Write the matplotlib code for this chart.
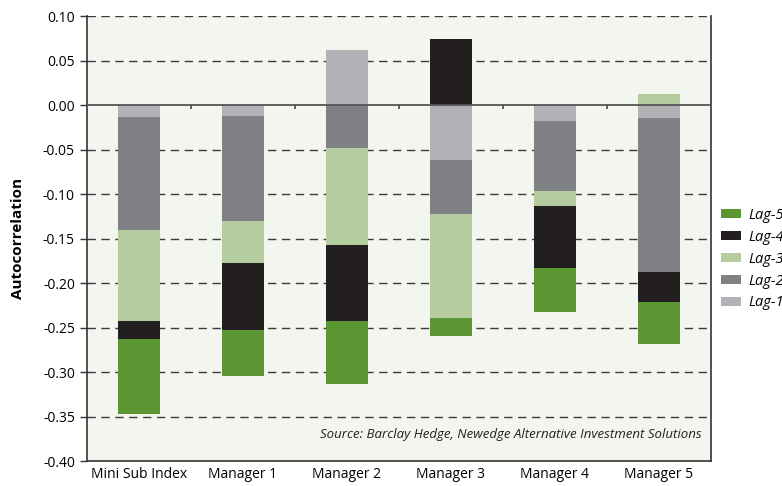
import numpy as np
import matplotlib
matplotlib.use("Agg")
import matplotlib.pyplot as plt

plt.rcParams['font.family'] = ['Open Sans', 'DejaVu Sans']

categories = ['Mini Sub Index', 'Manager 1', 'Manager 2', 'Manager 3', 'Manager 4', 'Manager 5']
lag1 = [-0.013, -0.012, 0.062, -0.062, -0.018, -0.015]
lag2 = [-0.127, -0.118, -0.048, -0.061, -0.079, -0.173]
lag3 = [-0.103, -0.047, -0.109, -0.116, -0.016, 0.012]
lag4 = [-0.020, -0.076, -0.086, 0.074, -0.070, -0.033]
lag5 = [-0.084, -0.051, -0.070, -0.020, -0.049, -0.048]
yticks = [-0.40, -0.35, -0.30, -0.25, -0.20, -0.15, -0.10, -0.05, 0.00, 0.05, 0.10]

series = [('Lag-1', lag1, '#b1b2b5'),
          ('Lag-2', lag2, '#808184'),
          ('Lag-3', lag3, '#b5cc9e'),
          ('Lag-4', lag4, '#231f20'),
          ('Lag-5', lag5, '#5a9632')]

fig = plt.figure(figsize=(7.82, 4.86), dpi=100)
ax = fig.add_axes([0.111, 0.0514, 0.798, 0.9156])
ax.set_facecolor('#f3f6ef')

x = np.arange(len(categories))
pos_bottom = np.zeros(len(categories))
neg_bottom = np.zeros(len(categories))
handles = {}
for name, vals, col in series:
    vals = np.array(vals)
    bottom = np.where(vals >= 0, pos_bottom, neg_bottom)
    h = ax.bar(x, vals, 0.40, bottom=bottom, color=col, label=name, zorder=3)
    handles[name] = h
    pos_bottom += np.where(vals >= 0, vals, 0)
    neg_bottom += np.where(vals < 0, vals, 0)

ax.set_xlim(-0.5, 5.5)
ax.set_ylim(-0.40, 0.10)
ax.set_yticks(yticks)
ax.set_yticklabels([f'{v:.2f}' for v in yticks])
for v in yticks[1:]:
    if v == 0:
        continue
    ax.axhline(v, color='#3a3a3a', lw=1.0, ls=(0, (6, 4)), zorder=1)
ax.axhline(0, color='#555555', lw=1.3, zorder=4)
ax.vlines(x[:-1] + 0.5, -0.004, 0, color='#555555', lw=1.3, zorder=4)

ax.set_xticks(x)
ax.set_xticklabels(categories, fontsize=10)
ax.tick_params(axis='x', length=0, pad=4)
ax.tick_params(axis='y', length=5, width=1, color='#333333', labelsize=10)

for side in ['left', 'right', 'bottom']:
    ax.spines[side].set_color('#333333')
    ax.spines[side].set_linewidth(1.2)
ax.spines['top'].set_visible(False)

ax.set_ylabel('Autocorrelation', fontsize=11, fontweight='bold', labelpad=13)

ax.text(0.985, 0.044, 'Source: Barclay Hedge, Newedge Alternative Investment Solutions',
        transform=ax.transAxes, ha='right', va='bottom', fontsize=9.5, style='italic',
        color='#231f20')

# legend sits partly off the right edge, as in the original
order = ['Lag-5', 'Lag-4', 'Lag-3', 'Lag-2', 'Lag-1']
leg = fig.legend([handles[n] for n in order], order, loc='upper left',
                 bbox_to_anchor=(0.905, 0.599), frameon=False,
                 handlelength=1.4, handleheight=0.55, labelspacing=0.47,
                 handletextpad=0.5, prop={'style': 'italic', 'size': 10.5})

fig.savefig('out.png', dpi=100)
